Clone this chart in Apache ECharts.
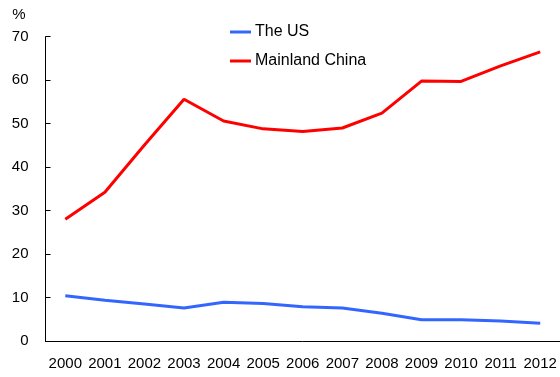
<!DOCTYPE html>
<html>
<head>
<meta charset="utf-8">
<script src="https://cdn.jsdelivr.net/npm/echarts@6/dist/echarts.min.js"></script>
<style>
  html, body { margin: 0; padding: 0; background: #fff; }
  #chart { width: 560px; height: 377px; }
</style>
</head>
<body>
<div id="chart"></div>
<script>
// Share (%) by year
const years = ['2000','2001','2002','2003','2004','2005','2006','2007','2008','2009','2010','2011','2012'];
const usValues = [10.4, 9.4, 8.5, 7.6, 8.9, 8.6, 7.9, 7.6, 6.4, 4.9, 4.9, 4.6, 4.1];
const chinaValues = [28.0, 34.2, 45.1, 55.6, 50.6, 48.8, 48.2, 49.0, 52.4, 59.8, 59.7, 63.3, 66.5];
const yTicks = { min: 0, max: 70, interval: 10 };

const font = 'Liberation Sans, Arial, sans-serif';
const chart = echarts.init(document.getElementById('chart'));
chart.setOption({
  animation: false,
  backgroundColor: '#ffffff',
  textStyle: { fontFamily: font },
  grid: { left: 45.5, right: 0, top: 36.7, bottom: 36 },
  legend: {
    orient: 'vertical',
    left: 225,
    top: 19,
    itemWidth: 21,
    itemHeight: 3,
    itemGap: 13,
    icon: 'rect',
    textStyle: { fontFamily: font, fontSize: 16, color: '#000', lineHeight: 16, padding: [0, 0, 0, -1] },
    data: ['The US', 'Mainland China']
  },
  xAxis: {
    type: 'category',
    data: years,
    boundaryGap: true,
    axisLine: { lineStyle: { color: '#000', width: 1 } },
    axisTick: { inside: true, length: 5, lineStyle: { color: '#000' } },
    axisLabel: { color: '#000', fontSize: 15, fontFamily: font, margin: 15, interval: 0 },
    splitLine: { show: false }
  },
  yAxis: {
    type: 'value',
    min: yTicks.min,
    max: yTicks.max,
    interval: yTicks.interval,
    name: '%',
    nameLocation: 'end',
    nameGap: 14,
    nameTextStyle: { color: '#000', fontSize: 15, fontFamily: font, align: 'right', padding: [0, 20, 0, 0] },
    axisLine: { show: true, lineStyle: { color: '#000', width: 1 } },
    axisTick: { show: true, inside: true, length: 5, lineStyle: { color: '#000' } },
    axisLabel: { color: '#000', fontSize: 15, fontFamily: font, margin: 17 },
    splitLine: { show: false }
  },
  series: [
    {
      name: 'The US',
      type: 'line',
      data: usValues,
      symbol: 'none',
      color: '#3366FF',
      lineStyle: { width: 3, color: '#3366FF' }
    },
    {
      name: 'Mainland China',
      type: 'line',
      data: chinaValues,
      symbol: 'none',
      color: '#FF0000',
      lineStyle: { width: 3, color: '#FF0000' }
    }
  ]
});
</script>
</body>
</html>
